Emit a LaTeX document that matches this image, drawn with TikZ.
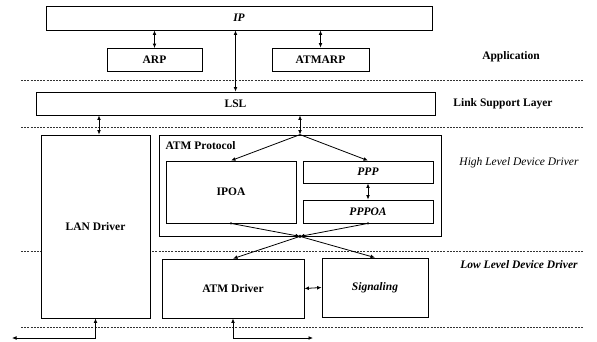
\documentclass[tikz,border=0pt]{standalone}
\usepackage{fontspec}
\setmainfont{Liberation Serif}
\usetikzlibrary{arrows.meta,calc}
\begin{document}
\begin{tikzpicture}[x=1pt,y=-1pt,
  box/.style={draw,line width=0.8pt,fill=white,rectangle,inner sep=0pt,font=\fontsize{11.5}{13}\selectfont\bfseries},
  lbl/.style={font=\fontsize{11.5}{13}\selectfont},
  sep/.style={line width=0.5pt,dash pattern=on 2pt off 1.2pt,black!80},
  conn/.style={line width=0.8pt,{Latex[length=4.5pt,width=3.8pt]}-{Latex[length=4.5pt,width=3.8pt]}},
  one/.style={line width=0.8pt,-{Latex[length=4.5pt,width=3.8pt]}},
  dot/.style={circle,fill,inner sep=0pt,minimum size=3.5pt}]
\useasboundingbox (0,0) rectangle (597,341);
% separators
\draw[sep] (21,80) -- (584,80);
\draw[sep] (21,127) -- (584,127);
\draw[sep] (21,251) -- (584,251);
\draw[sep] (21,327) -- (584,327);
% boxes
\node[box,minimum width=386pt,minimum height=24pt] (IP) at (239,18) {\itshape IP};
\node[box,minimum width=95pt,minimum height=23pt] (ARP) at (154.5,60) {ARP};
\node[box,minimum width=97pt,minimum height=23pt] (ATMARP) at (320.5,59.5) {ATMARP};
\node[box,minimum width=399pt,minimum height=23pt] (LSL) at (235.5,103.5) {LSL};
\node[box,minimum width=109pt,minimum height=183pt] (LAN) at (95.5,226.5) {LAN Driver};
\node[box,minimum width=282pt,minimum height=101pt] (ATMP) at (300,185.5) {};
\node[lbl,font=\fontsize{11.5}{13}\selectfont\bfseries,anchor=west] (ATMPl) at (162,146) {ATM Protocol};
\node[box,minimum width=130pt,minimum height=62pt] (IPOA) at (231,192) {IPOA};
\node[box,minimum width=130pt,minimum height=22pt] (PPP) at (368,172) {\itshape PPP};
\node[box,minimum width=130pt,minimum height=23pt] (PPPOA) at (368,211.5) {\itshape PPPOA};
\node[box,minimum width=142pt,minimum height=59pt] (ATMD) at (233,288.5) {ATM Driver};
\node[box,minimum width=106pt,minimum height=59pt] (SIG) at (375,287.5) {\itshape Signaling};
% layer labels
\node[lbl,font=\fontsize{11.5}{13}\selectfont\bfseries] (app) at (511,57) {Application};
\node[lbl,font=\fontsize{11.5}{13}\selectfont\bfseries] (lsl) at (503,104) {Link Support Layer};
\node[lbl,font=\fontsize{11.5}{13}\selectfont\itshape] (hld) at (519,163) {High Level Device Driver};
\node[lbl,font=\fontsize{11.5}{13}\selectfont\bfseries\itshape] (lld) at (519,265) {Low Level Device Driver};
% hubs
\coordinate (hub1) at (ATMP.north);
\coordinate (hub2) at (ATMP.south);
\coordinate (lanend) at (12,338);
\coordinate (atmend) at (313,338);
% connectors
\draw[conn] (ARP.north) -- (ARP.north |- IP.south);
\draw[conn] (ATMARP.north) -- (ATMARP.north |- IP.south);
\draw[conn] (LSL.north) -- (LSL.north |- IP.south);
\draw[conn] ([xshift=3.5pt]LAN.north) -- ([xshift=3.5pt]LAN.north |- LSL.south);
\draw[conn] (hub1) -- (hub1 |- LSL.south);
\draw[one] (hub1) -- (IPOA.north);
\draw[one] (hub1) -- (PPP.north);
\draw[conn] (PPP.south) -- (PPPOA.north);
\draw[one] (IPOA.south) -- (hub2);
\draw[one] (PPPOA.south) -- (hub2);
\draw[one] (hub2) -- (ATMD.north);
\draw[one] (hub2) -- (SIG.north);
\node[dot] (d1) at (hub2) {};
\node[dot,minimum size=2.5pt] (d2) at (IPOA.south) {};
\node[dot,minimum size=2.5pt] (d3) at (PPPOA.south) {};
\draw[conn] (ATMD.east) -- (SIG.west);
\draw[conn] (LAN.south) |- (lanend);
\draw[conn] (ATMD.south) |- (atmend);
\end{tikzpicture}
\end{document}
